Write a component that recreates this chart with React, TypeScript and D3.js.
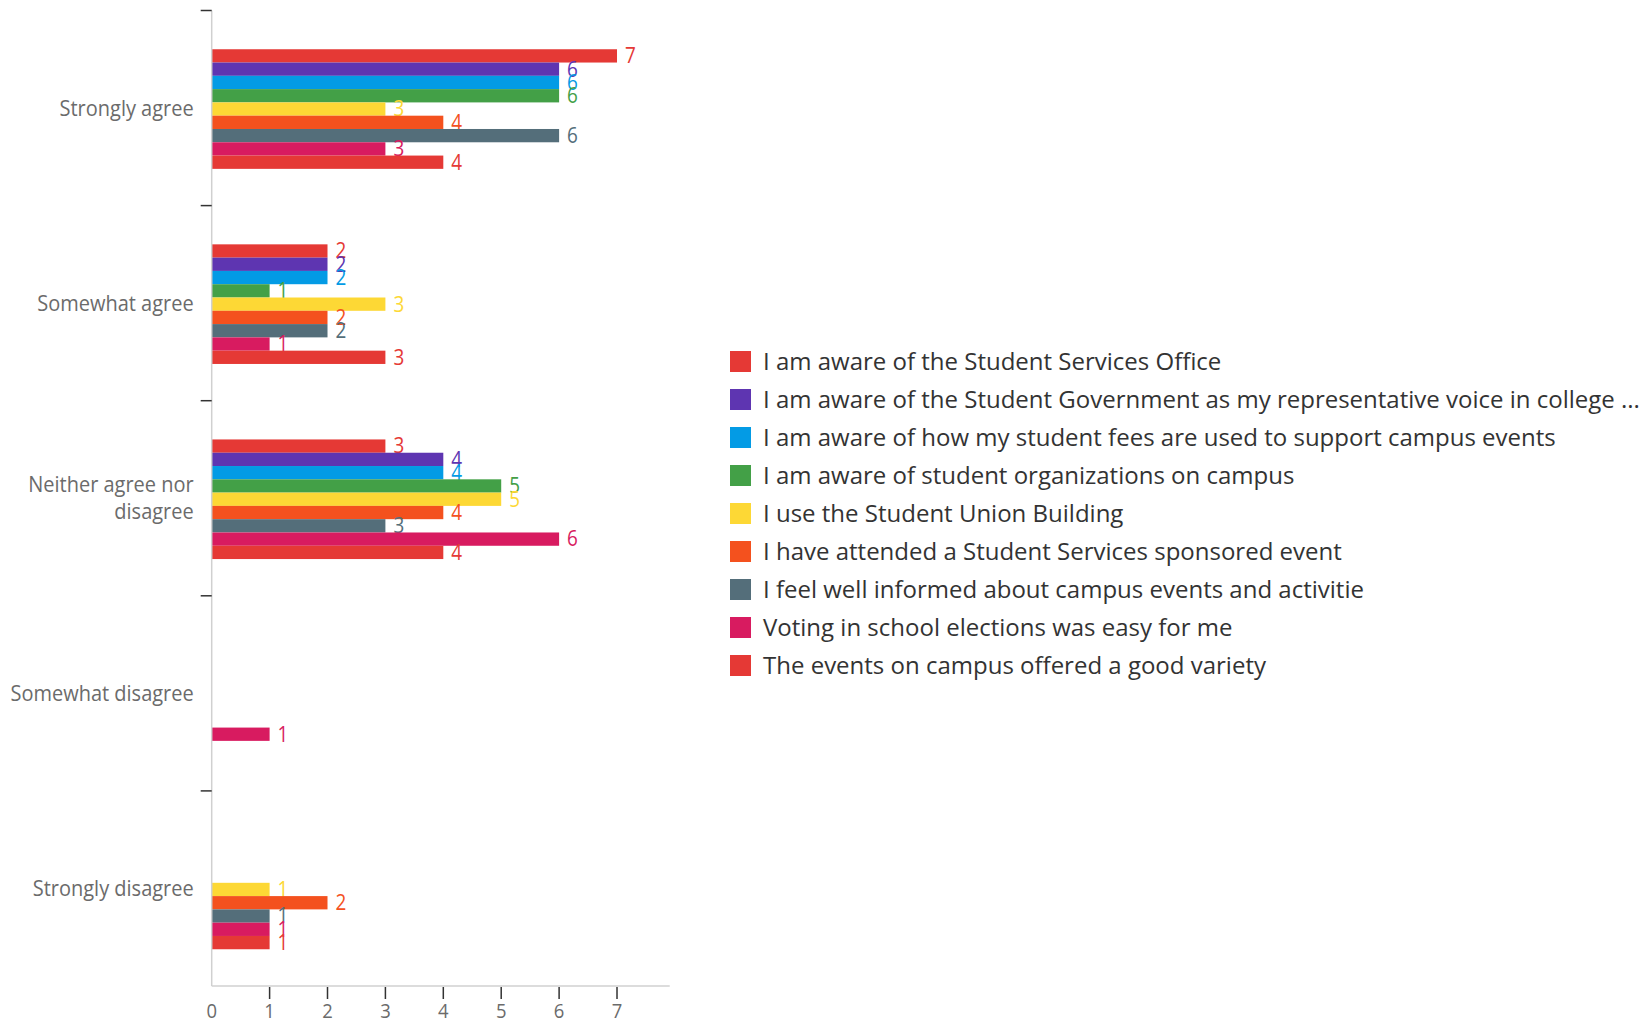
import React from "react";
import * as d3 from "d3";

const categories = [
  "Strongly agree",
  "Somewhat agree",
  "Neither agree nor disagree",
  "Somewhat disagree",
  "Strongly disagree",
];
const categoryLines = [
  ["Strongly agree"],
  ["Somewhat agree"],
  ["Neither agree nor", "disagree"],
  ["Somewhat disagree"],
  ["Strongly disagree"],
];

const seriesNames = [
  "I am aware of the Student Services Office",
  "I am aware of the Student Government as my representative voice in college ...",
  "I am aware of how my student fees are used to support campus events",
  "I am aware of student organizations on campus",
  "I use the Student Union Building",
  "I have attended a Student Services sponsored event",
  "I feel well informed about campus events and activitie",
  "Voting in school elections was easy for me",
  "The events on campus offered a good variety",
];
const seriesColors = [
  "#e53935",
  "#5e35b1",
  "#039be5",
  "#43a047",
  "#fdd835",
  "#f4511e",
  "#546e7a",
  "#d81b60",
  "#e53935",
];
// values per series, in category order
const sAwareOffice = [7, 2, 3, 0, 0];
const sAwareGov = [6, 2, 4, 0, 0];
const sAwareFees = [6, 2, 4, 0, 0];
const sAwareOrgs = [6, 1, 5, 0, 0];
const sUnionBuilding = [3, 3, 5, 0, 1];
const sAttended = [4, 2, 4, 0, 2];
const sInformed = [6, 2, 3, 0, 1];
const sVoting = [3, 1, 6, 1, 1];
const sVariety = [4, 3, 4, 0, 1];
const seriesValues = [
  sAwareOffice,
  sAwareGov,
  sAwareFees,
  sAwareOrgs,
  sUnionBuilding,
  sAttended,
  sInformed,
  sVoting,
  sVariety,
];
const xTicks = [0, 1, 2, 3, 4, 5, 6, 7];
const xMax = 7.91;

const W = 1651;
const H = 1023;
const FONT = "'Open Sans', sans-serif";
const NARROW = 0.9;
const CAT_NARROW = 0.93;

export default function App() {
  const plotLeft = 211.7;
  const plotRight = 669.7;
  const plotTop = 10.5;
  const plotBottom = 986;

  const x = d3.scaleLinear().domain([0, xMax]).range([plotLeft, plotRight]);
  const y = d3
    .scaleBand<string>()
    .domain(categories)
    .range([plotTop, plotBottom])
    .paddingInner(0)
    .paddingOuter(0);
  const inner = d3
    .scaleBand<number>()
    .domain(d3.range(seriesNames.length))
    .range([1, y.bandwidth() + 1])
    .paddingInner(0)
    .paddingOuter(2.84);

  const legendX = 730;
  const legendY0 = 361.5;
  const legendStep = 38;

  return (
    <svg
      width={W}
      height={H}
      style={{ position: "absolute", left: 0, top: 0, background: "#fff" }}
      fontFamily={FONT}
    >
      {/* bars */}
      {seriesValues.map((vals, si) =>
        categories.map((c, ci) => {
          const v = vals[ci];
          if (!v) return null;
          const y0 = (y(c) as number) + (inner(si) as number);
          const h = inner.bandwidth();
          return (
            <g key={`${si}-${ci}`}>
              <rect
                x={x(0)}
                y={y0}
                width={x(v) - x(0)}
                height={h}
                fill={seriesColors[si]}
              />
              <g transform={`translate(${x(v) + 8},${y0 + h / 2}) scale(${NARROW},1)`}>
                <text x={0} y={0} dy="0.35em" fontSize={21} fill={seriesColors[si]}>
                  {v}
                </text>
              </g>
            </g>
          );
        })
      )}

      {/* y axis line */}
      <line x1={plotLeft} x2={plotLeft} y1={plotTop} y2={plotBottom} stroke="#d0d0d0" strokeWidth={1.5} />
      {/* y ticks at band boundaries */}
      {categories.map((c) => (
        <line
          key={c}
          x1={plotLeft - 11}
          x2={plotLeft}
          y1={y(c) as number}
          y2={y(c) as number}
          stroke="#333"
          strokeWidth={1.5}
        />
      ))}
      {/* category labels */}
      {categories.map((c, ci) => {
        const lines = categoryLines[ci];
        const cy = (y(c) as number) + y.bandwidth() / 2;
        const lh = 27;
        return (
          <g key={c} transform={`translate(${plotLeft - 18},${cy}) scale(${CAT_NARROW},1)`}>
            <text textAnchor="end" fontSize={21.5} fill="#6b6b6b">
              {lines.map((l, li) => (
                <tspan key={li} x={0} y={(li - (lines.length - 1) / 2) * lh} dy="0.35em">
                  {l}
                </tspan>
              ))}
            </text>
          </g>
        );
      })}

      {/* x axis */}
      <line x1={plotLeft} x2={plotRight} y1={plotBottom} y2={plotBottom} stroke="#d0d0d0" strokeWidth={1.5} />
      {xTicks.map((t) => (
        <g key={t}>
          {t > 0 && (
            <line x1={x(t)} x2={x(t)} y1={plotBottom + 1} y2={plotBottom + 13} stroke="#333" strokeWidth={1.5} />
          )}
          <g transform={`translate(${x(t)},${plotBottom + 25}) scale(${NARROW},1)`}>
            <text x={0} y={0} dy="0.35em" textAnchor="middle" fontSize={20.5} fill="#6b6b6b">
              {t}
            </text>
          </g>
        </g>
      ))}

      {/* legend */}
      {seriesNames.map((s, si) => {
        const cy = legendY0 + si * legendStep;
        return (
          <g key={si}>
            <rect x={legendX} y={cy - 10.5} width={21} height={21} fill={seriesColors[si]} />
            <text x={legendX + 33} y={cy} dy="0.35em" fontSize={24} fill="#333">
              {s}
            </text>
          </g>
        );
      })}
    </svg>
  );
}
